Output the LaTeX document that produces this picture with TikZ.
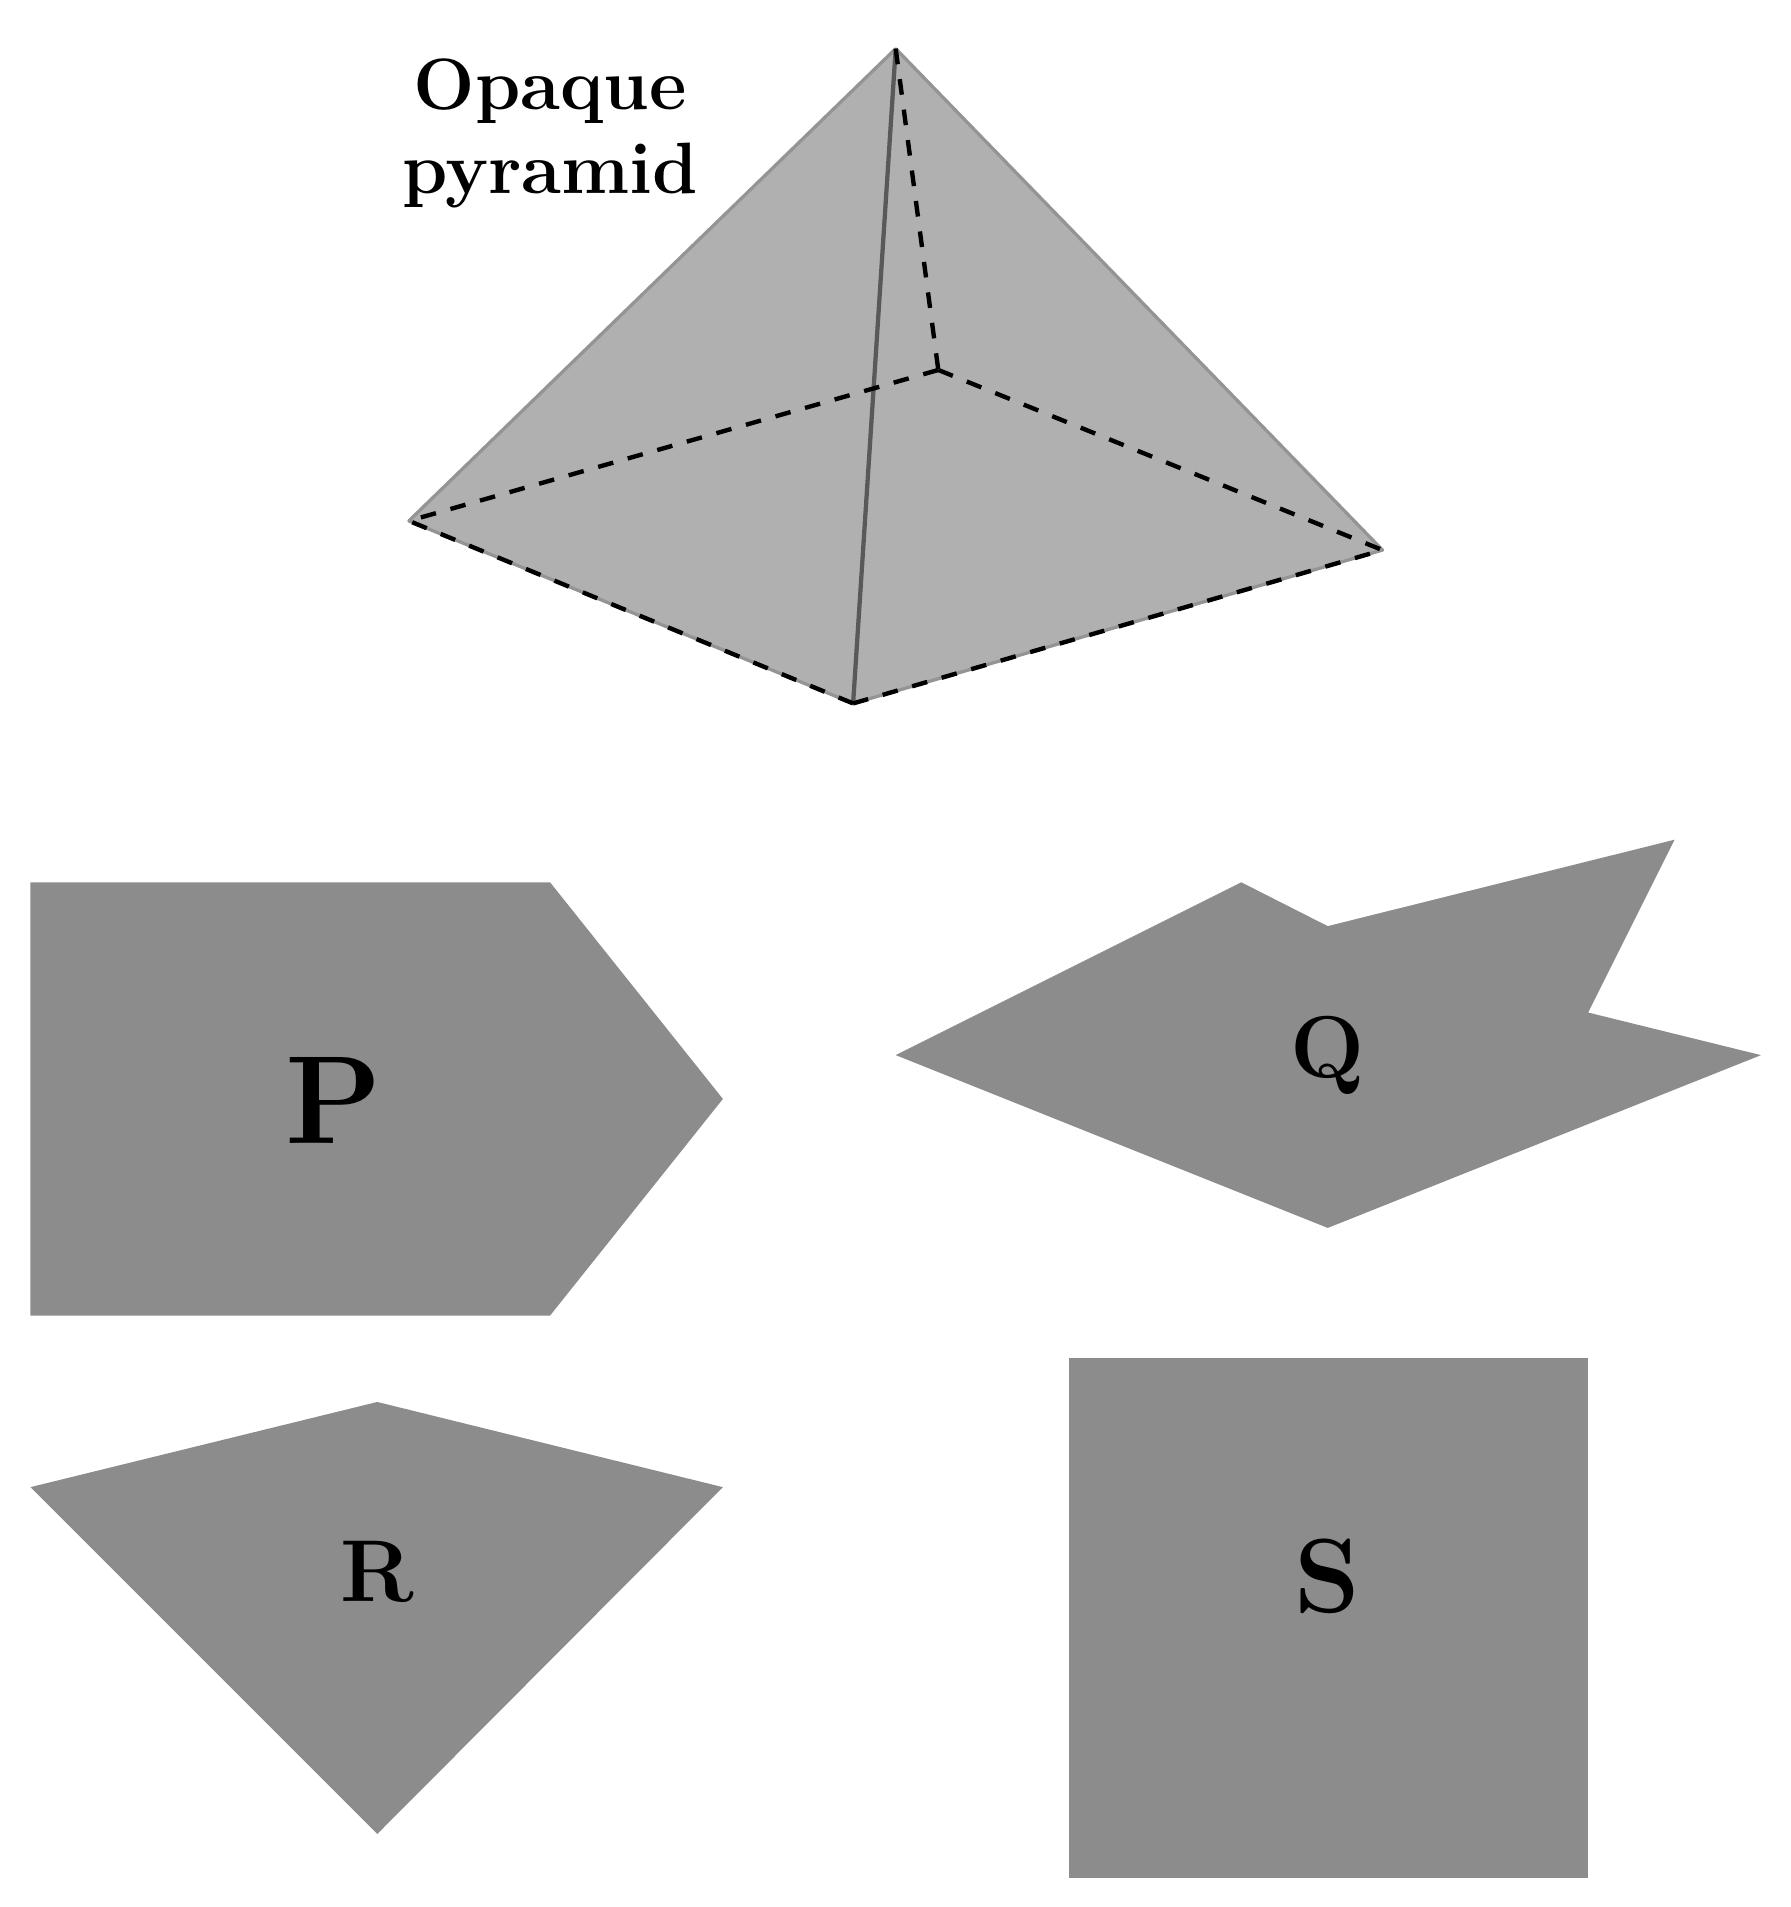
\documentclass[tikz,border=0pt]{standalone}
\usepackage{amsmath,amssymb,amsfonts}
\usepackage{tikz}
\definecolor{faceg}{gray}{0.69}
\definecolor{shapeg}{gray}{0.55}
\definecolor{edgeg}{gray}{0.58}
\tikzset{solidshape/.style={fill=shapeg,draw=none},
 hidden/.style={black,line width=3.5pt,dash pattern=on 12.5pt off 12pt}}
\begin{document}
\begin{tikzpicture}[x=0.0341cm,y=-0.0341cm]
 \useasboundingbox (0,0) rectangle (1471,1567);
 % pyramid
 \coordinate (apex) at (736,40);
 \coordinate (lft) at (336,428);
 \coordinate (frnt) at (701,578);
 \coordinate (rgt) at (1136,452);
 \coordinate (bck) at (771,304);
 \fill[faceg] (apex) -- (lft) -- (frnt) -- (rgt) -- cycle;
 \draw[edgeg,line width=2.6pt,line join=round] (apex) -- (lft) -- (frnt) -- (rgt) -- cycle;
 \draw[black!65,line width=3.4pt] (apex) -- (frnt);
 \draw[hidden] (apex) -- (bck);
 \draw[hidden] (bck) -- (lft);
 \draw[hidden] (bck) -- (rgt);
 \draw[hidden] (frnt) -- (lft);
 \draw[hidden] (frnt) -- (rgt);
 \node[align=center,font=\bfseries\fontsize{58}{67}\selectfont] (cap) at (452,110) {Opaque\\pyramid};
 % answer shapes
 \fill[solidshape] (25,725) -- (452,725) -- (594,903) -- (452,1081) -- (25,1081) -- cycle;
 \node[font=\bfseries\fontsize{100}{104}\selectfont] (labP) at (274,904) {P};
 \fill[solidshape] (736,867) -- (1020,725) -- (1091,761) -- (1376,690) -- (1305,832) -- (1447,867) -- (1091,1009) -- cycle;
 \node[font=\bfseries\fontsize{70}{74}\selectfont] (labQ) at (1091,867) {Q};
 \fill[solidshape] (25,1222) -- (310,1152) -- (594,1222) -- (310,1507) -- cycle;
 \node[font=\bfseries\fontsize{70}{74}\selectfont] (labR) at (310,1292) {R};
 \fill[solidshape] (878,1116) rectangle (1305,1543);
 \node[font=\bfseries\fontsize{84}{88}\selectfont] (labS) at (1091,1295) {S};
\end{tikzpicture}
\end{document}
